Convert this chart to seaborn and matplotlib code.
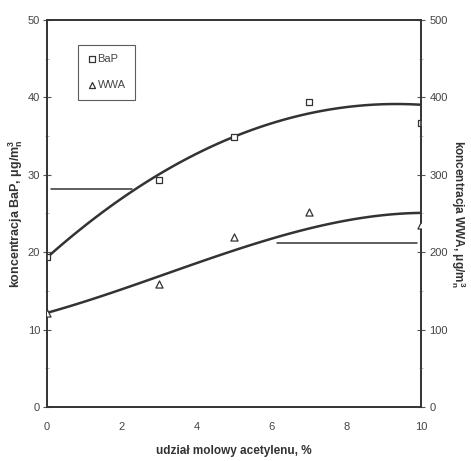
import numpy as np
import pandas as pd
import matplotlib
matplotlib.use("Agg")
import matplotlib.pyplot as plt
import seaborn as sns
from matplotlib.ticker import MultipleLocator

acetylene = [0, 3, 5, 7, 10]
bap = [19.4, 29.3, 34.9, 39.4, 36.7]
wwa = [121, 159, 220, 252, 235]

# Trend curves as drawn in the chart (read at each integer %)
trend_x = [0, 1, 2, 3, 4, 5, 6, 7, 8, 9, 10]
bap_trend = [19.3, 23.4, 27.0, 29.9, 32.7, 35.0, 36.7, 37.9, 38.7, 39.0, 39.1]
wwa_trend = [121, 137, 153, 168, 185, 202, 218, 231, 241, 247, 251]

# pointer lines (which axis each curve belongs to)
bap_pointer_x = [0.12, 2.27]
bap_pointer_y = [28.1, 28.1]
wwa_pointer_x = [6.15, 9.9]
wwa_pointer_y = [212, 212]

df = pd.DataFrame({"x": acetylene, "bap": bap, "wwa": wwa})
df_trend = pd.DataFrame({"x": trend_x, "bap": bap_trend, "wwa": wwa_trend})

sns.set_style("white")
plt.rcParams['font.family'] = ['Liberation Sans', 'DejaVu Sans']
plt.rcParams['mathtext.default'] = 'regular'

line_col = "#333333"
tick_col = "#555555"

fig = plt.figure(figsize=(4.71, 4.61), dpi=100)
ax1 = fig.add_axes([0.0998, 0.117, 0.794, 0.840])
ax2 = ax1.twinx()

# BaP - left axis (smooth trend through the read curve values)
sns.regplot(data=df_trend, x="x", y="bap", order=3, ci=None, scatter=False,
            line_kws={"color": line_col, "lw": 1.8}, ax=ax1)
ax1.scatter(df["x"], df["bap"], marker="s", s=22, facecolors="white",
            edgecolors=line_col, linewidths=0.9, zorder=3, label="BaP")
ax1.plot(bap_pointer_x, bap_pointer_y, color=line_col, lw=1.1)

# WWA - right axis
sns.regplot(data=df_trend, x="x", y="wwa", order=3, ci=None, scatter=False,
            line_kws={"color": line_col, "lw": 1.8}, ax=ax2)
ax2.scatter(df["x"], df["wwa"], marker="^", s=26, facecolors="white",
            edgecolors=line_col, linewidths=0.9, zorder=3, label="WWA")
ax2.plot(wwa_pointer_x, wwa_pointer_y, color=line_col, lw=1.1)

ax1.set_xlim(0, 10)
ax1.set_ylim(0, 50)
ax2.set_ylim(0, 500)
ax1.xaxis.set_major_locator(MultipleLocator(2))
ax1.xaxis.set_minor_locator(MultipleLocator(1))
ax1.yaxis.set_major_locator(MultipleLocator(10))
ax1.yaxis.set_minor_locator(MultipleLocator(5))
ax2.yaxis.set_major_locator(MultipleLocator(100))
ax2.yaxis.set_minor_locator(MultipleLocator(50))

for ax in (ax1, ax2):
    for sp in ax.spines.values():
        sp.set_color(line_col)
        sp.set_linewidth(1.2)
    ax.tick_params(which="major", direction="inout", length=6, width=0.8,
                   color=tick_col, labelsize=8, labelcolor="#444444")
    ax.tick_params(which="minor", direction="inout", length=3, width=0.6,
                   color="#aaaaaa")
ax1.tick_params(axis="x", pad=8)
ax1.tick_params(axis="y", left=True, pad=2)
ax2.tick_params(axis="y", right=True, pad=3)

ax1.set_xlabel("udział molowy acetylenu, %", fontsize=8.5, fontweight="bold",
               color="#333333", labelpad=9)
ax1.set_ylabel(r"koncentracja BaP, $\mu$g/m$_n^3$", fontsize=9, fontweight="bold",
               color="#333333", labelpad=2)
ax2.set_ylabel(r"koncentracja WWA, $\mu$g/m$_n^3$", fontsize=8.5, fontweight="bold",
               color="#333333", rotation=-90, va="center", ha="center")
ax2.yaxis.set_label_coords(1.1, 0.5)

h1, l1 = ax1.get_legend_handles_labels()
h2, l2 = ax2.get_legend_handles_labels()
leg = ax2.legend(h1 + h2, l1 + l2, loc="upper left", bbox_to_anchor=(0.083, 0.936),
                 fontsize=8, frameon=True, fancybox=False, handlelength=0.8,
                 handletextpad=0.1, borderpad=0.85, labelspacing=1.45,
                 borderaxespad=0, markerscale=0.85)
leg.get_frame().set_edgecolor(line_col)
leg.get_frame().set_linewidth(0.8)
for t in leg.get_texts():
    t.set_color("#444444")

fig.savefig("out.png", dpi=100, facecolor="white")
